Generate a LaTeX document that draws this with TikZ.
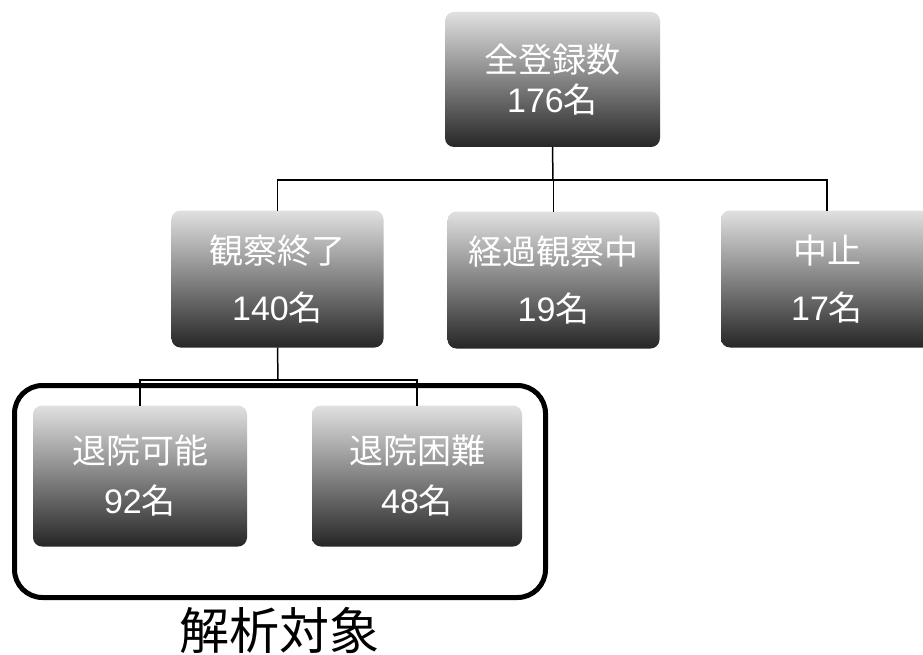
\documentclass[tikz,border=0pt]{standalone}
\usepackage{fontspec}
\newfontfamily\cjk{Noto Sans CJK JP}
\newfontfamily\lat{Liberation Sans}
\begin{document}
\begin{tikzpicture}[x=1pt,y=-1pt,
  box/.style={rounded corners=9pt, top color=black!12, middle color=black!45,
    bottom color=black!85, minimum width=212pt, minimum height=137pt,
    inner sep=0pt, outer sep=0pt, text=white, align=center,
    font=\fontsize{34}{40}\selectfont\cjk},
  link/.style={line width=1.5pt, black},
  frame/.style={draw=black, line width=5pt, rounded corners=28pt,
    minimum width=531pt, minimum height=212pt, inner sep=0pt, outer sep=0pt},
  caption/.style={font=\fontsize{50}{55}\selectfont\cjk, text=black}]
\path[use as bounding box, fill=white] (0,0) rectangle (923,655);
% boxes
\node[box, minimum width=215pt, minimum height=135pt] (all) at (552.5,79.5) {全登録数\\{\lat 176}名};
\node[box] (obs) at (277.5,279) {観察終了\\[17pt]{\lat 140}名};
\node[box] (mid) at (553.5,280) {経過観察中\\[17pt]{\lat 19}名};
\node[box] (stop) at (827,279) {中止\\[17pt]{\lat 17}名};
\node[box, minimum width=214pt, minimum height=141pt] (dis1) at (140,476) {退院可能\\[10pt]{\lat 92}名};
\node[box, minimum width=210pt, minimum height=141pt] (dis2) at (417,476) {退院困難\\[10pt]{\lat 48}名};
% connectors
\coordinate (b1) at (553,180);
\coordinate (b2) at (278,380);
\draw[link] (all.south) -- (b1);
\draw[link] (obs.north) |- (b1) -| (stop.north);
\draw[link] (mid.north) -- (mid.north |- b1);
\draw[link] (obs.south) -- (b2);
\draw[link] (dis1.north) |- (b2) -| (dis2.north);
% frame
\node[frame] (group) at (280,491.5) {};
\node[caption] (lbl) at (279,630) {解析対象};
\end{tikzpicture}
\end{document}
